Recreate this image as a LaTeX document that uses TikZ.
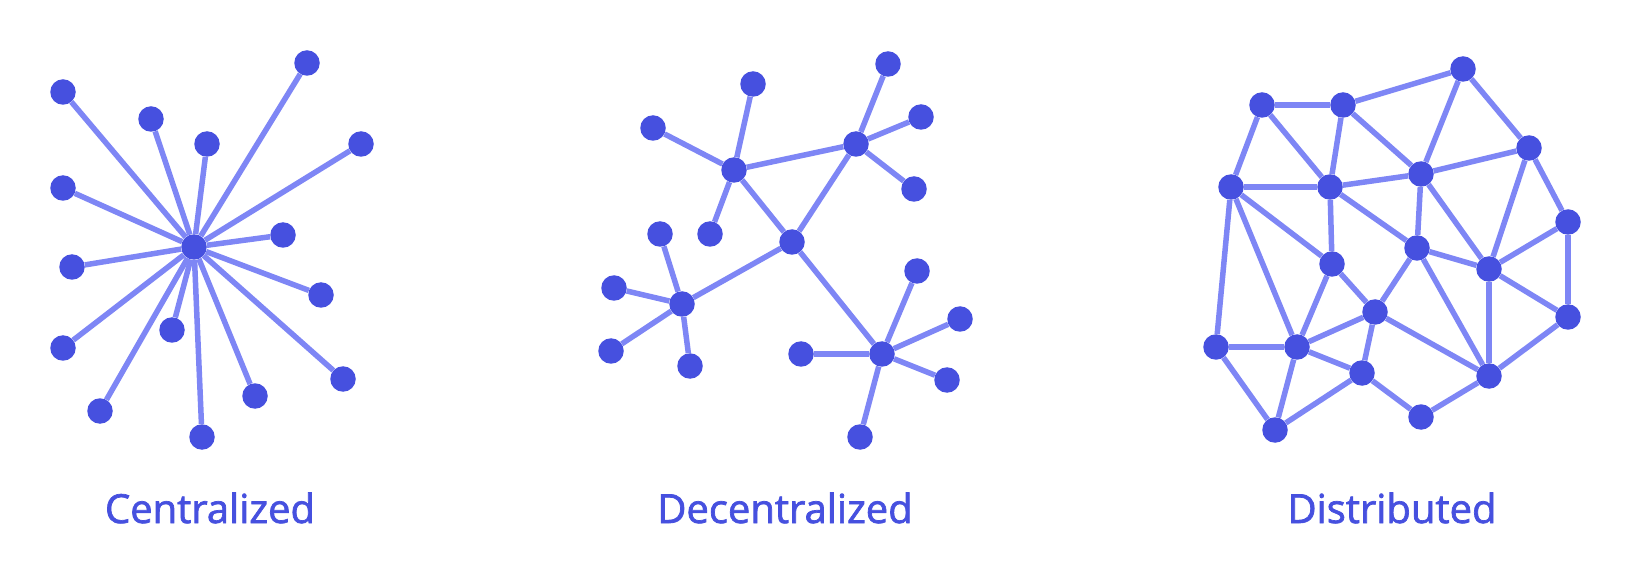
\documentclass[tikz,border=0pt]{standalone}
\usepackage{fontspec}
\setmainfont{Open Sans}
\newfontfamily\capfont[FakeBold=1.8]{Open Sans}
\usepackage{xcolor}
\definecolor{dotblue}{HTML}{4650DF}
\definecolor{linkblue}{HTML}{7E86F5}
\usetikzlibrary{positioning}

\begin{document}
\begin{tikzpicture}[
    x=1pt, y=-1pt,
    dot/.style={circle, fill=dotblue, inner sep=0pt, minimum size=25.5pt},
    link/.style={draw=linkblue, line width=5.5pt},
    caption/.style={text=dotblue, font=\capfont\fontsize{40}{46}\selectfont}
]
    \useasboundingbox (0,0) rectangle (1631,577);

    % Centralized: one hub, all leaves tied to it
    \node[dot] (c0) at (194,247) {};
    \foreach \i/\x/\y in {1/63/92, 2/151/119, 3/207/144, 4/307/63, 5/361/144,
        6/63/188, 7/283/235, 8/72/267, 9/321/295, 10/63/348, 11/172/330,
        12/100/411, 13/202/437, 14/255/396, 15/343/379}
    {
        \node[dot] (c\i) at (\x,\y) {};
        \draw[link] (c0) -- (c\i);
    }
    \node[caption] (centr) at (210,508) {Centralized};

    % Decentralized: a few hubs, each with own leaves
    \node[dot] (mid) at (792,242) {};
    \node[dot] (hubA) at (734,170) {};
    \node[dot] (hubB) at (856,144) {};
    \node[dot] (hubC) at (682,304) {};
    \node[dot] (hubD) at (882,354) {};
    \draw[link] (hubA) -- (hubB);
    \foreach \h in {hubA, hubB, hubC, hubD}
        \draw[link] (mid) -- (\h);
    \foreach \h/\i/\x/\y in {hubA/1/753/84, hubA/2/653/128, hubA/3/710/234,
        hubB/1/888/64, hubB/2/921/117, hubB/3/914/189,
        hubC/1/660/234, hubC/2/614/288, hubC/3/611/351, hubC/4/690/366,
        hubD/1/917/271, hubD/2/960/319, hubD/3/947/380, hubD/4/860/437, hubD/5/801/354}
    {
        \node[dot] (\h-\i) at (\x,\y) {};
        \draw[link] (\h) -- (\h-\i);
    }
    \node[caption] (decentr) at (785,508) {Decentralized};

    % Distributed: mesh, no hub
    \foreach \n/\x/\y in {a/1262/105, b/1343/105, c/1463/69, d/1231/187,
        e/1330/187, f/1421/174, g/1529/148, h/1568/222, i/1332/264,
        j/1417/248, k/1489/269, l/1375/312, m/1216/347, n/1297/347,
        o/1568/317, p/1362/373, q/1489/376, r/1275/430, s/1421/417}
        \node[dot] (d-\n) at (\x,\y) {};
    \foreach \u/\v in {a/b, a/d, a/e, b/c, b/e, b/f, c/f, c/g,
        d/e, d/m, d/n, d/i, e/f, e/i, e/j, f/g, f/j, f/k,
        g/h, g/k, h/k, h/o, i/l, i/n, j/k, j/l, j/q, k/o, k/q,
        l/n, l/p, l/q, m/n, m/r, n/r, n/p, o/q, p/r, p/s, q/s}
        \draw[link] (d-\u) -- (d-\v);
    \node[caption] (distr) at (1392,508) {Distributed};

\end{tikzpicture}
\end{document}
